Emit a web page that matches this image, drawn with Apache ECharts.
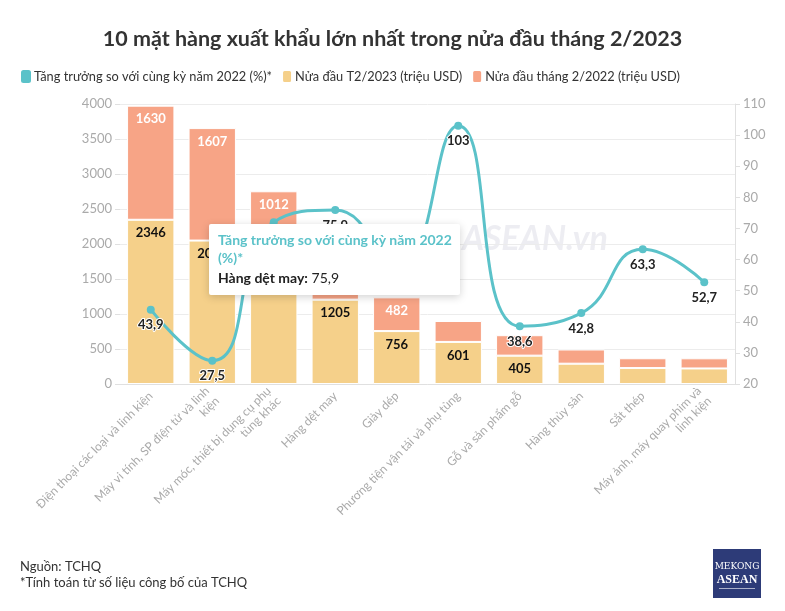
<!DOCTYPE html>
<html>
<head>
<meta charset="utf-8">
<script src="https://cdn.jsdelivr.net/npm/echarts@6/dist/echarts.min.js"></script>
<style>
html,body{margin:0;padding:0;background:#fff;}
#main{width:785px;height:611px;}
</style>
</head>
<body>
<div id="main"></div>
<script>
var categories = [
  'Điện thoại các loại và linh kiện',
  'Máy vi tính, SP điện tử và linh\nkiện',
  'Máy móc, thiết bị dụng cụ phụ\ntùng khác',
  'Hàng dệt may',
  'Giày dép',
  'Phương tiện vận tải và phụ tùng',
  'Gỗ và sản phẩm gỗ',
  'Hàng thủy sản',
  'Sắt thép',
  'Máy ảnh, máy quay phim và\nlinh kiện'
];
var value2023 = [2346, 2049, 1741, 1205, 756, 601, 405, 290, 228, 222];
var value2022 = [1630, 1607, 1012, 685, 482, 299, 292, 203, 140, 145];
var growth = [43.9, 27.5, 72.0, 75.9, 56.8, 103, 38.6, 42.8, 63.3, 52.7];
var leftTicks = {min: 0, max: 4000, interval: 500};
var rightTicks = {min: 20, max: 110, interval: 10};

var FONT = 'Lato, "Noto Sans", sans-serif';
var fmt = function (v) { return String(v).replace('.', ','); };

var chart = echarts.init(document.getElementById('main'));
chart.setOption({
  textStyle: {fontFamily: FONT},
  animation: false,
  title: {
    text: '10 mặt hàng xuất khẩu lớn nhất trong nửa đầu tháng 2/2023',
    left: 'center', top: 23,
    textStyle: {fontFamily: FONT, fontSize: 21.5, fontWeight: 'bold', color: '#333'}
  },
  legend: {
    left: 16, top: 64,
    itemWidth: 10, itemHeight: 13, itemGap: 9,
    icon: 'roundRect',
    textStyle: {fontFamily: FONT, fontSize: 12.8, color: '#333', padding: [0, 0, 0, -2]},
    data: ['Tăng trưởng so với cùng kỳ năm 2022 (%)*', 'Nửa đầu T2/2023 (triệu USD)', 'Nửa đầu tháng 2/2022 (triệu USD)']
  },
  tooltip: {
    trigger: 'item',
    alwaysShowContent: true,
    triggerOn: 'none',
    position: [209, 224],
    backgroundColor: '#fff',
    borderWidth: 0,
    padding: [7, 8, 7, 9],
    extraCssText: 'box-shadow:0 2px 8px rgba(0,0,0,0.18);border-radius:2px;width:234px;white-space:normal;',
    formatter: function (p) {
      return '<div style="font-family:Lato,sans-serif;font-size:14px;font-weight:bold;color:#5bc2c9;line-height:18px;"><b style="font-weight:bold;">' + p.seriesName + '</b></div>' +
        '<div style="font-family:Lato,sans-serif;font-size:14px;color:#222;line-height:20px;margin-top:1px;"><b style="font-weight:bold;">' + p.name + ':</b> ' + fmt(p.value) + '</div>';
    }
  },
  graphic: [
    {type: 'text', left: 462, top: 222, z: 0, silent: true,
      style: {text: 'ASEAN.vn', font: 'italic bold 34px Lato, "Noto Sans", sans-serif', fill: 'rgba(190,190,210,0.28)'}},
    {type: 'text', left: 20, top: 560,
      style: {text: 'Nguồn: TCHQ', font: '13px Lato, "Noto Sans", sans-serif', fill: '#333'}},
    {type: 'text', left: 20, top: 576,
      style: {text: '*Tính toán từ số liệu công bố của TCHQ', font: '13px Lato, "Noto Sans", sans-serif', fill: '#333'}},
    {type: 'rect', left: 713, top: 549, shape: {width: 48, height: 49}, style: {fill: '#2d3b78'}},
    {type: 'text', x: 737, y: 567, style: {text: 'MEKONG', textAlign: 'center', textVerticalAlign: 'middle', font: '9px "DejaVu Serif", serif', fill: '#fff'}},
    {type: 'text', x: 737, y: 580, style: {text: 'ASEAN', textAlign: 'center', textVerticalAlign: 'middle', font: 'bold 12px "Liberation Serif", serif', fill: '#fff'}},
    {type: 'rect', left: 719, top: 588, shape: {width: 36, height: 1}, style: {fill: 'rgba(255,255,255,0.6)'}}
  ],
  grid: {left: 120, right: 50, top: 104, bottom: 227},
  xAxis: {
    type: 'category',
    data: categories,
    axisLine: {lineStyle: {color: '#e0e0e0'}},
    axisTick: {alignWithLabel: true, length: 5, lineStyle: {color: '#e0e0e0'}},
    axisLabel: {rotate: 45, color: '#aaa', fontSize: 12, fontFamily: FONT, interval: 0, margin: 10, lineHeight: 14}
  },
  yAxis: [
    {
      type: 'value', min: leftTicks.min, max: leftTicks.max, interval: leftTicks.interval,
      axisLine: {show: false},
      axisTick: {show: true, length: 5, lineStyle: {color: '#e0e0e0'}},
      axisLabel: {color: '#aaa', fontSize: 13, fontFamily: FONT, margin: 8, formatter: function (v) { return String(v); }},
      splitLine: {lineStyle: {color: '#ececec'}}
    },
    {
      type: 'value', min: rightTicks.min, max: rightTicks.max, interval: rightTicks.interval,
      position: 'right',
      axisLine: {show: true, lineStyle: {color: '#e0e0e0'}},
      axisTick: {show: true, length: 5, lineStyle: {color: '#e0e0e0'}},
      axisLabel: {color: '#aaa', fontSize: 13, fontFamily: FONT, margin: 8},
      splitLine: {show: false}
    }
  ],
  series: [
    {
      name: 'Tăng trưởng so với cùng kỳ năm 2022 (%)*',
      type: 'line', yAxisIndex: 1, z: 5,
      data: growth,
      smooth: 0.5,
      symbol: 'circle', symbolSize: 8,
      itemStyle: {color: '#5bc2c9'},
      lineStyle: {width: 3, color: '#5bc2c9'},
      label: {
        show: true, position: 'bottom', distance: 5,
        fontFamily: FONT, fontSize: 13, fontWeight: 'bold', color: '#222',
        textBorderColor: '#fff', textBorderWidth: 2,
        formatter: function (p) { return fmt(p.value); }
      }
    },
    {
      name: 'Nửa đầu T2/2023 (triệu USD)',
      type: 'bar', stack: 'a', data: value2023,
      barCategoryGap: '23%',
      itemStyle: {color: '#f5d08a', borderColor: '#fff', borderWidth: 1},
      label: {
        show: true, position: 'insideTop', distance: 7,
        fontFamily: FONT, fontSize: 13, fontWeight: 'bold', color: '#111',
        formatter: function (p) { return p.value >= 400 ? p.value : ''; }
      }
    },
    {
      name: 'Nửa đầu tháng 2/2022 (triệu USD)',
      type: 'bar', stack: 'a', data: value2022,
      itemStyle: {color: '#f7a486', borderColor: '#fff', borderWidth: 1},
      label: {
        show: true, position: 'insideTop', distance: 7,
        fontFamily: FONT, fontSize: 13, fontWeight: 'bold', color: '#fff',
        formatter: function (p) { return p.value >= 400 ? p.value : ''; }
      }
    }
  ]
});
setTimeout(function () {
  chart.dispatchAction({type: 'showTip', seriesIndex: 0, dataIndex: 3});
}, 50);
</script>
</body>
</html>
